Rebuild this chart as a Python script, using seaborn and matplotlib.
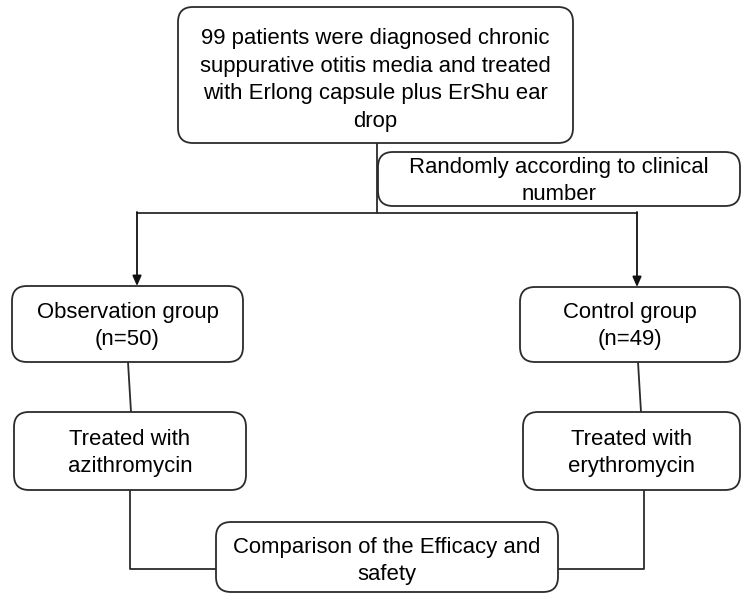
import matplotlib
matplotlib.use("Agg")
import matplotlib.pyplot as plt
from matplotlib.patches import FancyBboxPatch
import seaborn as sns
import pandas as pd

# ---- content ----
box_ids = ["top", "rand", "obs", "ctrl", "treatA", "treatE", "comp"]
box_labels = [
    "99 patients were diagnosed chronic\nsuppurative otitis media and treated\nwith Erlong capsule plus ErShu ear\ndrop",
    "Randomly according to clinical\nnumber",
    "Observation group\n(n=50)",
    "Control group\n(n=49)",
    "Treated with\nazithromycin",
    "Treated with\nerythromycin",
    "Comparison of the Efficacy and\nsafety",
]

# ---- layout (pixel space, y down) ----
box_geom = {
    "top": (178, 7, 573, 143),
    "rand": (378, 152, 740, 206),
    "obs": (12, 286, 243, 362),
    "ctrl": (520, 287, 740, 362),
    "treatA": (14, 412, 246, 490),
    "treatE": (523, 412, 740, 490),
    "comp": (216, 522, 558, 592),
}
text_cy = {"top": 80, "rand": 181, "obs": 326, "ctrl": 326,
           "treatA": 453, "treatE": 453, "comp": 561}

connectors = [
    [(377, 143), (377, 213)],
    [(137, 213), (637, 213)],
    [(128, 362), (131, 412)],
    [(638, 362), (641, 412)],
    [(130, 490), (130, 569), (216, 569)],
    [(644, 490), (644, 569), (558, 569)],
]
arrows = [((137, 212), (137, 286)), ((637, 212), (637, 287))]

sns.set_theme(style="white")
plt.rcParams["font.family"] = ["Liberation Sans", "DejaVu Sans"]

fig = plt.figure(figsize=(7.45, 5.98), dpi=100)
ax = fig.add_axes([0, 0, 1, 1])

line_col = "#2b2b2b"

rows = []
for i, seg in enumerate(connectors):
    for j, (x, y) in enumerate(seg):
        rows.append({"seg": i, "order": j, "x": x, "y": y})
df = pd.DataFrame(rows)
sns.lineplot(data=df, x="x", y="y", units="seg", estimator=None, sort=False,
             color=line_col, linewidth=1.3, ax=ax, legend=False)
ax.set_xlim(0, 745)
ax.set_ylim(598, 0)
ax.axis("off")

for (x0, y0), (x1, y1) in arrows:
    ax.annotate("", xy=(x1, y1), xytext=(x0, y0),
                arrowprops=dict(arrowstyle="-|>,head_length=0.5,head_width=0.22",
                                color="#111111", lw=1.3, shrinkA=0, shrinkB=0))

for bid, label in zip(box_ids, box_labels):
    x0, y0, x1, y1 = box_geom[bid]
    r = 15
    p = FancyBboxPatch((x0 + r, y0 + r), (x1 - x0) - 2 * r, (y1 - y0) - 2 * r,
                       boxstyle=f"round,pad={r},rounding_size={r}",
                       facecolor="white", edgecolor=line_col, linewidth=1.3,
                       zorder=3)
    ax.add_patch(p)
    ax.text((x0 + x1) / 2, text_cy[bid], label, ha="center", va="center",
            fontsize=15.9, color="black", linespacing=1.4, zorder=4)

fig.savefig("out.png", dpi=100)
